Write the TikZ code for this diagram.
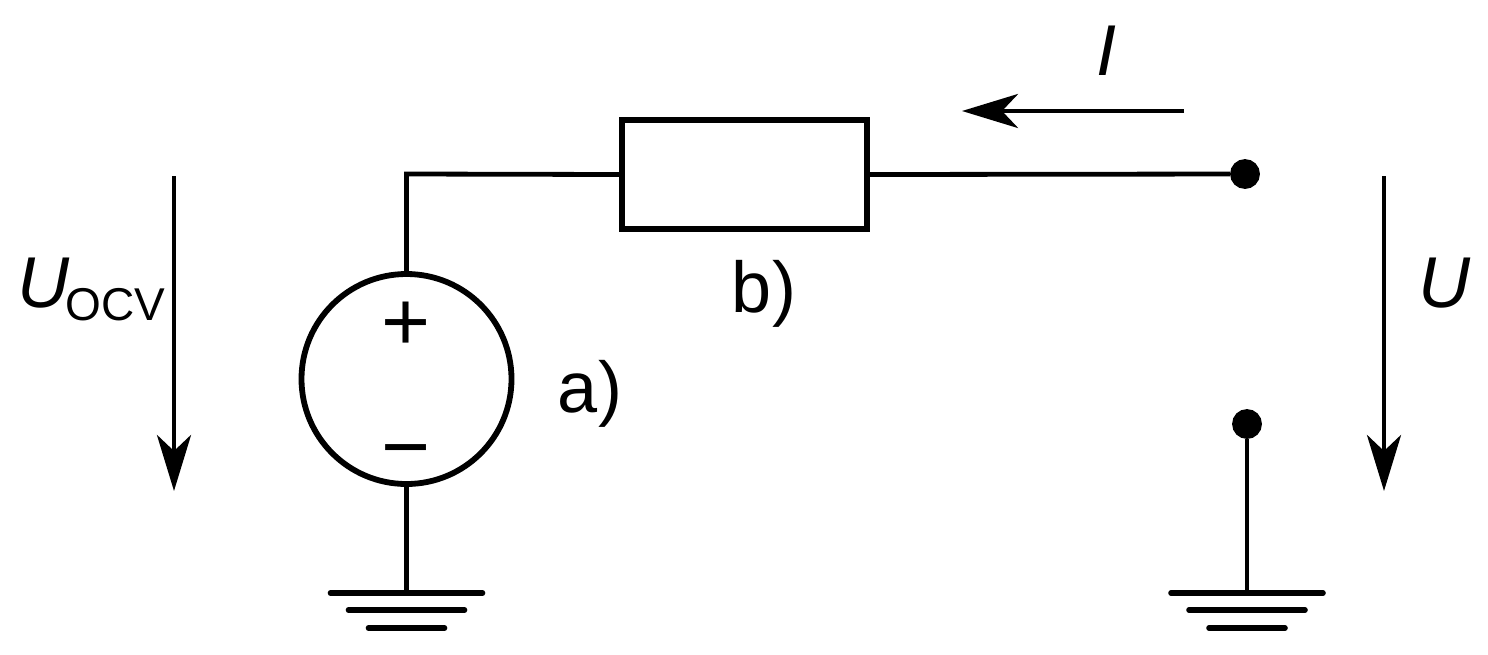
\documentclass[tikz,border=0pt]{standalone}
\usepackage{fontspec}
\setmainfont{Liberation Sans}
\usetikzlibrary{arrows.meta}
\begin{document}
\begin{tikzpicture}[x=.5pt,y=-.5pt,line width=2.4pt]
% Estilos
\tikzset{terminal/.style={circle,draw,minimum size=12.5pt,inner sep=0pt,fill=black},
  source/.style={circle,draw,minimum size=105pt,inner sep=0pt,line width=2.9pt},
  resistor/.style={rectangle,draw,minimum width=122.5pt,minimum height=54.5pt,inner sep=0pt,line width=3pt},
  label/.style={inner sep=0pt,font=\fontsize{36}{36}\selectfont},
  sign/.style={inner sep=0pt,font=\fontsize{42}{42}\selectfont},
  tip/.style={-{Stealth[length=28pt,width=17pt,inset=8pt]}},
  bar/.style={line cap=round,line width=2.8pt}}
\useasboundingbox (0,0) rectangle (1488,654);

% Componentes
  \node[source] (src) at (406.5,379) {};
  \node[resistor] (res) at (744.5,174.5) {};
  \node[terminal] (top) at (1245,174) {};
  \node[terminal] (bot) at (1247,424) {};
  \coordinate (corner) at (406.5,174);
  \coordinate (gndA) at (406.5,593);
  \coordinate (gndB) at (1247,593);

% Textos
  \node[sign] (plus) at (406.5,326) {+};
  \node[sign] (minus) at (406.5,460) {−};
  \node[label,anchor=base] (a) at (590,412) {a)};
  \node[label,anchor=base] (b) at (764,312) {b)};
  \node[label,anchor=base west] (uocv) at (15,307) {\textit{U}\kern-2pt\fontsize{23}{23}\selectfont\raisebox{-6.5pt}{OCV}};
  \node[label,anchor=base] (u) at (1445,307) {\textit{U}};
  \node[label,anchor=base] (i) at (1106,75) {\textit{I}};

% Cables
\draw (res.west) -- (corner) -- (src.north);
\draw (res.east) -- (top);
\draw (src.south) -- (gndA);
\draw (bot) -- (gndB);

% Tierra
\draw[bar] ([xshift=-38pt]gndA) -- ([xshift=38pt]gndA);
\draw[bar] ([xshift=-29pt,yshift=-8.5pt]gndA) -- ([xshift=29pt,yshift=-8.5pt]gndA);
\draw[bar] ([xshift=-19pt,yshift=-17.5pt]gndA) -- ([xshift=19pt,yshift=-17.5pt]gndA);
\draw[bar] ([xshift=-38pt]gndB) -- ([xshift=38pt]gndB);
\draw[bar] ([xshift=-29pt,yshift=-8.5pt]gndB) -- ([xshift=29pt,yshift=-8.5pt]gndB);
\draw[bar] ([xshift=-19pt,yshift=-17.5pt]gndB) -- ([xshift=19pt,yshift=-17.5pt]gndB);

% Flechas
\coordinate (uocvA) at (174,176);
\coordinate (uocvB) at (174,491);
\coordinate (uA) at (1384,176);
\coordinate (uB) at (1384,491);
\coordinate (iA) at (1184,111);
\coordinate (iB) at (962,111);
\draw[tip] (uocvA) -- (uocvB);
\draw[tip] (uA) -- (uB);
\draw[tip] (iA) -- (iB);

\end{tikzpicture}
\end{document}
